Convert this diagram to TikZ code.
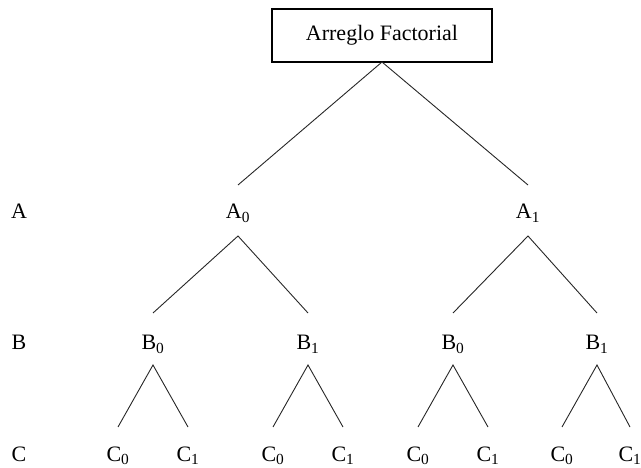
\documentclass[tikz,border=0pt]{standalone}
\usepackage{fontspec}
\setmainfont{Liberation Serif}
\begin{document}
\begin{tikzpicture}[x=1pt,y=-1pt,
  every node/.style={font=\fontsize{22}{26}\selectfont, inner sep=0pt, outer sep=0pt},
  rootbox/.style={draw, line width=1.6pt, minimum width=220pt, minimum height=53pt},
  lvla/.style={anchor=base, text height=34pt, text depth=17pt},
  lvlb/.style={anchor=base, text height=37pt, text depth=15pt},
  lvlc/.style={anchor=base, text height=34pt, text depth=1pt},
  side/.style={anchor=base},
  edge/.style={line width=0.9pt, draw=black!85}]
\useasboundingbox (0,0) rectangle (641,468);
\node[rootbox] (root) at (382,35.5) {Arreglo Factorial};
% left column labels
\node[side] (la) at (19,219) {A};
\node[side] (lb) at (19,350) {B};
\node[side] (lc) at (19,461) {C};
% level A
\node[lvla] (a0) at (238,219) {A\textsubscript{0}};
\node[lvla] (a1) at (528,219) {A\textsubscript{1}};
% level B
\node[lvlb] (b00) at (153,350) {B\textsubscript{0}};
\node[lvlb] (b01) at (308,350) {B\textsubscript{1}};
\node[lvlb] (b10) at (453,350) {B\textsubscript{0}};
\node[lvlb] (b11) at (597,350) {B\textsubscript{1}};
% level C
\node[lvlc] (c000) at (118,461) {C\textsubscript{0}};
\node[lvlc] (c001) at (188,461) {C\textsubscript{1}};
\node[lvlc] (c010) at (273,461) {C\textsubscript{0}};
\node[lvlc] (c011) at (343,461) {C\textsubscript{1}};
\node[lvlc] (c100) at (418,461) {C\textsubscript{0}};
\node[lvlc] (c101) at (488,461) {C\textsubscript{1}};
\node[lvlc] (c110) at (562,461) {C\textsubscript{0}};
\node[lvlc] (c111) at (630,461) {C\textsubscript{1}};
% edges
\draw[edge] (a0.north) -- (root.south) -- (a1.north);
\draw[edge] (b00.north) -- (a0.south) -- (b01.north);
\draw[edge] (b10.north) -- (a1.south) -- (b11.north);
\draw[edge] (c000.north) -- (b00.south) -- (c001.north);
\draw[edge] (c010.north) -- (b01.south) -- (c011.north);
\draw[edge] (c100.north) -- (b10.south) -- (c101.north);
\draw[edge] (c110.north) -- (b11.south) -- (c111.north);
\end{tikzpicture}
\end{document}
